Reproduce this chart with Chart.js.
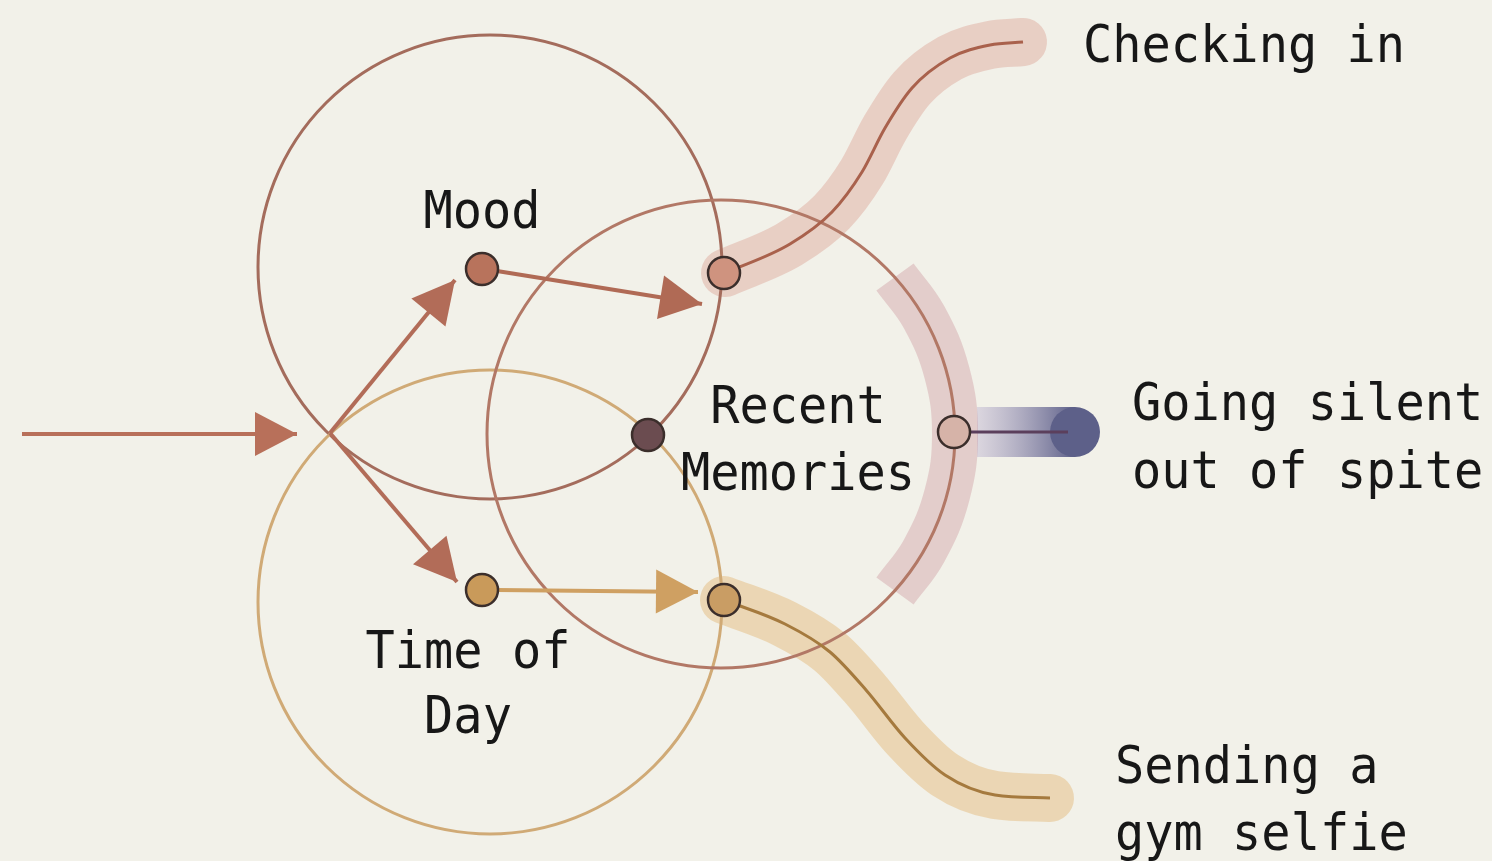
<!DOCTYPE html>
<html>
<head>
<meta charset="utf-8">
<script src="https://cdn.jsdelivr.net/npm/chart.js@4.4.1/dist/chart.umd.min.js"></script>
<style>
  html, body { margin: 0; padding: 0; background: #f2f1e9; overflow: hidden; }
  canvas { display: block; }
</style>
</head>
<body>
<canvas id="diagram" width="1492" height="861"></canvas>
<script>
// diagram units: x 0..1492 left->right, y 0..861 top->bottom
const circleNames = ["Mood", "Time of Day", "Recent Memories"];
const circleX = [490, 490, 721];
const circleY = [267, 602, 434];
const circleR = [232, 232, 234];

// small nodes: mood, time, check-in, selfie, overlap, silent
const nodeX = [482, 482, 724, 724, 648, 954];
const nodeY = [269, 590, 273, 600, 435, 432];

// arrows (from -> tip)
const arrowFrom = [[22, 434], [330, 433], [330, 433], [497, 271], [497, 590]];
const arrowTo = [[297, 434], [455, 280], [457, 582], [702, 304], [698, 592]];

// outcome paths
const checkingInPath = [[725, 273], [790, 244], [832, 212], [862, 172], [885, 128], [912, 88], [950, 58], [990, 45], [1023, 42]];
const gymSelfiePath = [[724, 600], [785, 624], [830, 652], [866, 690], [905, 738], [945, 775], [995, 795], [1050, 798]];
const silentArcPath = [[895, 277], [924, 317], [947, 373], [955, 434], [947, 495], [924, 551], [895, 591]];
const silentBarPath = [[977, 432], [1075, 432]];
const silentLinePath = [[954, 432], [1068, 432]];

// text labels
const labelText = ["Mood", "Recent", "Memories", "Time of", "Day", "Checking in", "Going silent", "out of spite", "Sending a", "gym selfie"];
const labelX = [482, 798, 798, 468, 468, 1083, 1132, 1132, 1115, 1115];
const labelY = [228, 423, 490, 668, 733, 62, 420, 488, 783, 850];
const labelAlign = ["center", "center", "center", "center", "center", "left", "left", "left", "left", "left"];

const BG = "#f2f1e9";
const circleColors = ["#a46c5c", "#d0aa76", "#b27866"];
const nodeColors = ["#b8735c", "#c99a5a", "#cf937f", "#c99d64", "#6b4c50", "#d6b3a8"];
const arrowColors = ["#b8705a", "#b26c58", "#b26c58", "#b06a55", "#cfa062"];

const toPts = arr => arr.map(p => ({ x: p[0], y: p[1] }));

const datasets = [];

// nodes on top
datasets.push({
    label: "nodes",
    data: nodeX.map((x, i) => ({ x: x, y: nodeY[i] })),
    pointRadius: 16,
    pointBackgroundColor: nodeColors,
    pointBorderColor: "#3b2e2b",
    pointBorderWidth: 2.5,
    showLine: false,
    order: 0
});

// arrows
arrowFrom.forEach((from, i) => {
    datasets.push({
        label: "arrow" + i,
        arrow: true,
        data: toPts([from, arrowTo[i]]),
        showLine: true,
        borderColor: arrowColors[i],
        borderWidth: 4,
        pointRadius: 0,
        order: 1
    });
});

// thin centre lines of the outcome paths
datasets.push({
    label: "checking line", data: toPts(checkingInPath), showLine: true, cubicInterpolationMode: "monotone",
    borderColor: "#a9614c", borderWidth: 3, pointRadius: 0, order: 2
});
datasets.push({
    label: "selfie line", data: toPts(gymSelfiePath), showLine: true, cubicInterpolationMode: "monotone",
    borderColor: "#a57a3e", borderWidth: 3, pointRadius: 0, order: 2
});
datasets.push({
    label: "silent line", data: toPts(silentLinePath), showLine: true,
    borderColor: "#5b3f5c", borderWidth: 3, pointRadius: 0, order: 2
});

// the three big circles
datasets.push({
    type: "bubble",
    label: "circles",
    data: circleX.map((x, i) => ({ x: x, y: circleY[i], r: circleR[i] })),
    backgroundColor: "rgba(0,0,0,0)",
    borderColor: circleColors,
    borderWidth: 3,
    order: 3
});

// wide translucent bands
datasets.push({
    label: "checking band", data: toPts(checkingInPath), showLine: true, cubicInterpolationMode: "monotone",
    borderColor: "rgba(214,140,125,0.34)", borderWidth: 48, borderCapStyle: "round", borderJoinStyle: "round",
    pointRadius: 0, order: 4
});
datasets.push({
    label: "selfie band", data: toPts(gymSelfiePath), showLine: true, cubicInterpolationMode: "monotone",
    borderColor: "rgba(226,176,100,0.40)", borderWidth: 48, borderCapStyle: "round", borderJoinStyle: "round",
    pointRadius: 0, order: 4
});
datasets.push({
    label: "silent arc", data: toPts(silentArcPath), showLine: true, tension: 0.4,
    borderColor: "rgba(200,140,150,0.36)", borderWidth: 46, borderCapStyle: "butt",
    pointRadius: 0, order: 4
});
datasets.push({
    label: "silent bar", data: toPts(silentBarPath), showLine: true,
    borderColor: function (c) {
        const chart = c.chart;
        if (!chart.chartArea) return "#5d6089";
        const xs = chart.scales.x;
        const g = chart.ctx.createLinearGradient(xs.getPixelForValue(silentBarPath[0][0]), 0, xs.getPixelForValue(silentBarPath[1][0]), 0);
        g.addColorStop(0, "rgba(200,192,214,0.55)");
        g.addColorStop(1, "#5d6089");
        return g;
    },
    borderWidth: 50, borderCapStyle: "butt",
    pointRadius: [0, 25], pointBackgroundColor: "#5d6089", pointBorderWidth: 0,
    order: 4
});

// arrow heads after each arrow line
const arrowHeads = {
    id: "arrowHeads",
    afterDatasetDraw(chart, args) {
        const ds = chart.data.datasets[args.index];
        if (!ds.arrow) return;
        const pts = args.meta.data;
        const a = pts[pts.length - 2], b = pts[pts.length - 1];
        const ang = Math.atan2(b.y - a.y, b.x - a.x);
        const len = 42, half = 22;
        const ctx = chart.ctx;
        const bx = b.x - Math.cos(ang) * len, by = b.y - Math.sin(ang) * len;
        ctx.save();
        ctx.fillStyle = ds.borderColor;
        ctx.beginPath();
        ctx.moveTo(b.x, b.y);
        ctx.lineTo(bx - Math.sin(ang) * half, by + Math.cos(ang) * half);
        ctx.lineTo(bx + Math.sin(ang) * half, by - Math.cos(ang) * half);
        ctx.closePath();
        ctx.fill();
        ctx.restore();
    }
};

const background = {
    id: "background",
    beforeDraw(chart) {
        const ctx = chart.ctx;
        ctx.save();
        ctx.fillStyle = BG;
        ctx.fillRect(0, 0, chart.width, chart.height);
        ctx.restore();
    }
};

const textLabels = {
    id: "textLabels",
    afterDatasetsDraw(chart) {
        const ctx = chart.ctx;
        const xs = chart.scales.x, ys = chart.scales.y;
        ctx.save();
        ctx.fillStyle = "#171717";
        ctx.font = "52px 'DejaVu Sans Mono', 'Liberation Mono', monospace";
        ctx.textBaseline = "alphabetic";
        labelText.forEach((t, i) => {
            ctx.save();
            ctx.translate(xs.getPixelForValue(labelX[i]), ys.getPixelForValue(labelY[i]));
            ctx.scale(0.935, 1);
            ctx.textAlign = labelAlign[i];
            ctx.fillText(t, 0, 0);
            ctx.restore();
        });
        ctx.restore();
    }
};

new Chart(document.getElementById("diagram"), {
    type: "scatter",
    data: { datasets: datasets },
    options: {
        responsive: false,
        animation: false,
        events: [],
        layout: { padding: 0, autoPadding: false },
        elements: { line: { capBezierPoints: false } },
        scales: {
            x: { type: "linear", min: 0, max: 1492, display: false },
            y: { type: "linear", min: 0, max: 861, reverse: true, display: false }
        },
        plugins: {
            legend: { display: false },
            tooltip: { enabled: false }
        }
    },
    plugins: [background, arrowHeads, textLabels]
});
</script>
</body>
</html>
